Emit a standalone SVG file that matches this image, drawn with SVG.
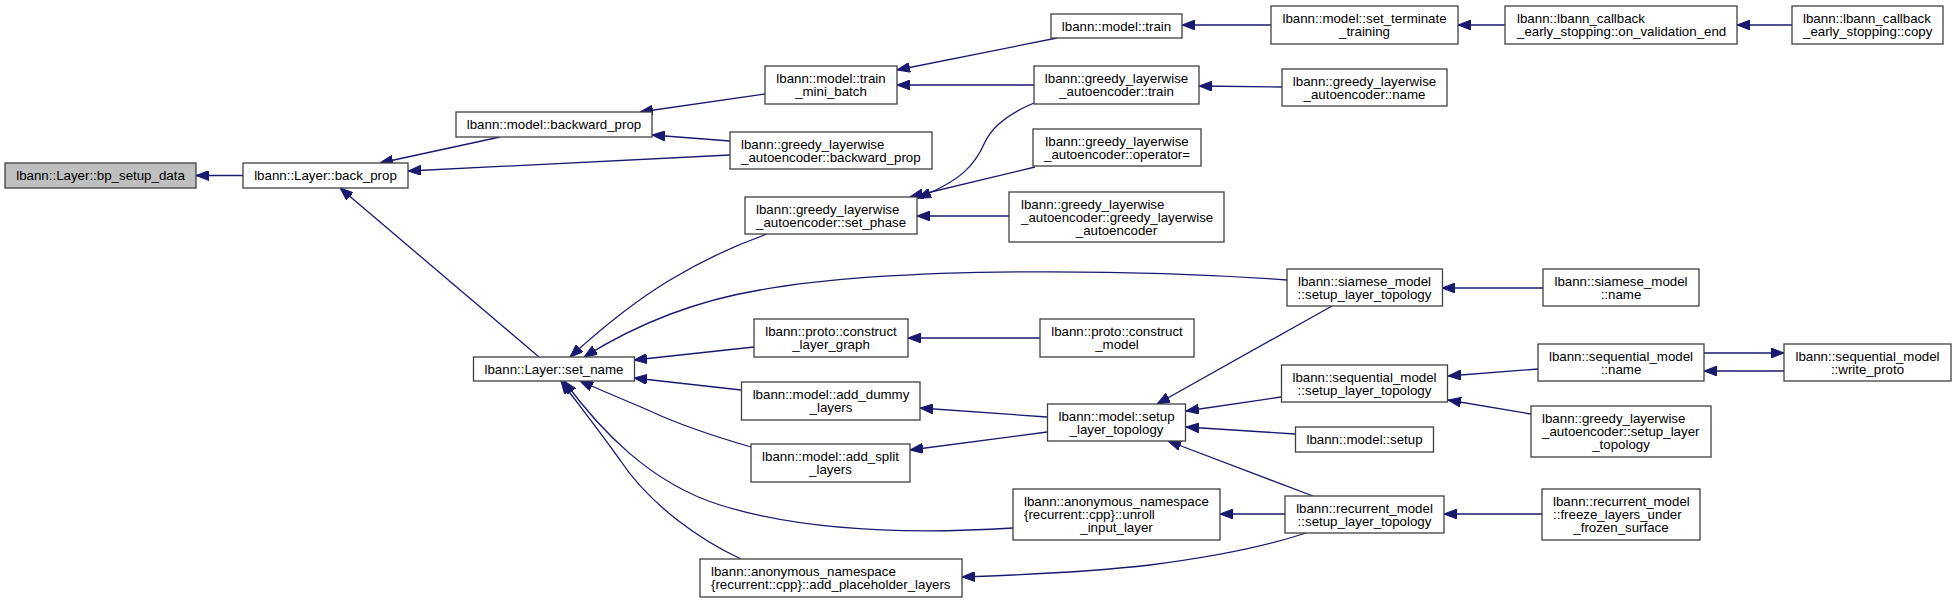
<svg xmlns="http://www.w3.org/2000/svg" width="1956" height="603" viewBox="0 0 1956 603">
<style>
.n rect{fill:#fff;stroke:#404040;stroke-width:1.3}
.n text{font-family:"Liberation Sans",Arial,Helvetica,sans-serif;font-size:13.3px;fill:#000}
.c{text-anchor:middle}
.l{text-anchor:start}
.e path{fill:none;stroke:#191970;stroke-width:1.3;marker-end:url(#ah)}
</style>
<defs>
<marker id="ah" viewBox="0 0 13 10" refX="13" refY="5" markerWidth="13" markerHeight="10" markerUnits="userSpaceOnUse" orient="auto">
<path d="M0,0 L13,5 L0,10 z" fill="#191970" stroke="#191970" stroke-width="1"/>
</marker>
</defs>
<rect width="1956" height="603" fill="#fff"/>
<g class="e" id="edges">
<path d="M243,175.5 L196,175.5"/>
<path d="M500,137 L380,163"/>
<path d="M730,155 L408,171"/>
<path d="M539,357 L340,188"/>
<path d="M765,94 L640,112"/>
<path d="M730,141 L652,135"/>
<path d="M1057,38 L897,70"/>
<path d="M1034,85 L897,85"/>
<path d="M1271,25 L1182,25"/>
<path d="M1505,25 L1458,25"/>
<path d="M1792,25 L1737,25"/>
<path d="M1282,87 L1199,86"/>
<path d="M1034,103 C1010,113 993,125 985,142 C975,165 962,180 918,198"/>
<path d="M1035,167 L910,197"/>
<path d="M1009,216 L917,216"/>
<path d="M767,234 C733,246 700,262 670,280 C640,298 605,325 570,357"/>
<path d="M1287,280 C1150,270 900,265 760,290 C700,300 640,322 584,357"/>
<path d="M754,347 L634,360"/>
<path d="M741,390 L634,378"/>
<path d="M751,447 C720,438 680,425 650,411 C625,400 600,390 580,381"/>
<path d="M1013,528 C900,535 800,530 720,505 C650,483 600,430 564,381"/>
<path d="M741,559 C700,540 650,505 620,460 C595,425 575,400 561,381"/>
<path d="M1040,338 L908,338"/>
<path d="M1047,417 L920,408"/>
<path d="M1047,432 L910,450"/>
<path d="M1332,306 L1157,404"/>
<path d="M1281,397 L1186,411"/>
<path d="M1295,434 L1186,427"/>
<path d="M1313,496 L1168,441"/>
<path d="M1285,514 L1220,514"/>
<path d="M1306,533 C1270,545 1220,556 1150,565 C1090,572 1020,575 962,577"/>
<path d="M1543,288 L1442,288"/>
<path d="M1538,369 L1448,376"/>
<path d="M1531,414 L1448,400"/>
<path d="M1704,353 L1784,353"/>
<path d="M1784,371 L1704,371"/>
<path d="M1542,514 L1444,514"/>
</g>
<g class="n" id="bp_setup_data"><rect x="5" y="163" width="191" height="25" style="fill:#bfbfbf"/><text class="c" x="100.5" y="180">lbann::Layer::bp_setup_data</text></g>
<g class="n" id="back_prop"><rect x="243" y="163" width="165" height="25"/><text class="c" x="325.5" y="180">lbann::Layer::back_prop</text></g>
<g class="n" id="model_backward_prop"><rect x="456" y="112" width="196" height="25"/><text class="c" x="554" y="129">lbann::model::backward_prop</text></g>
<g class="n" id="train_mini_batch"><rect x="765" y="66" width="132" height="38"/><text class="c" x="831" y="83">lbann::model::train</text><text class="c" x="831" y="96">_mini_batch</text></g>
<g class="n" id="greedy_backward_prop"><rect x="730" y="132" width="202" height="37"/><text class="l" x="741" y="149">lbann::greedy_layerwise</text><text class="l" x="741" y="162">_autoencoder::backward_prop</text></g>
<g class="n" id="greedy_set_phase"><rect x="745" y="197" width="172" height="37"/><text class="l" x="756" y="214">lbann::greedy_layerwise</text><text class="l" x="756" y="227">_autoencoder::set_phase</text></g>
<g class="n" id="model_train"><rect x="1051" y="14" width="131" height="24"/><text class="c" x="1116.5" y="30.5">lbann::model::train</text></g>
<g class="n" id="set_terminate_training"><rect x="1271" y="6" width="187" height="38"/><text class="c" x="1364.5" y="23">lbann::model::set_terminate</text><text class="c" x="1364.5" y="36">_training</text></g>
<g class="n" id="on_validation_end"><rect x="1505" y="6" width="232" height="38"/><text class="l" x="1517" y="23">lbann::lbann_callback</text><text class="l" x="1517" y="36">_early_stopping::on_validation_end</text></g>
<g class="n" id="early_stopping_copy"><rect x="1792" y="6" width="151" height="38"/><text class="l" x="1803" y="23">lbann::lbann_callback</text><text class="l" x="1803" y="36">_early_stopping::copy</text></g>
<g class="n" id="greedy_train"><rect x="1034" y="66" width="165" height="38"/><text class="c" x="1116.5" y="83">lbann::greedy_layerwise</text><text class="c" x="1116.5" y="96">_autoencoder::train</text></g>
<g class="n" id="greedy_name"><rect x="1282" y="69" width="165" height="37"/><text class="c" x="1364.5" y="86">lbann::greedy_layerwise</text><text class="c" x="1364.5" y="99">_autoencoder::name</text></g>
<g class="n" id="greedy_operator"><rect x="1033" y="129" width="168" height="37"/><text class="c" x="1117" y="146">lbann::greedy_layerwise</text><text class="c" x="1117" y="159">_autoencoder::operator=</text></g>
<g class="n" id="greedy_ctor"><rect x="1009" y="192" width="215" height="50"/><text class="l" x="1021" y="208.5">lbann::greedy_layerwise</text><text class="l" x="1021" y="221.5">_autoencoder::greedy_layerwise</text><text class="c" x="1116.5" y="234.5">_autoencoder</text></g>
<g class="n" id="set_name"><rect x="473.5" y="357" width="161" height="24"/><text class="c" x="554" y="373.5">lbann::Layer::set_name</text></g>
<g class="n" id="construct_layer_graph"><rect x="754" y="319" width="154" height="38"/><text class="c" x="831" y="336">lbann::proto::construct</text><text class="c" x="831" y="349">_layer_graph</text></g>
<g class="n" id="add_dummy_layers"><rect x="741.5" y="382" width="178.5" height="38"/><text class="c" x="831" y="399">lbann::model::add_dummy</text><text class="c" x="831" y="412">_layers</text></g>
<g class="n" id="add_split_layers"><rect x="751" y="444" width="159" height="38"/><text class="c" x="830.5" y="461">lbann::model::add_split</text><text class="c" x="830.5" y="474">_layers</text></g>
<g class="n" id="add_placeholder_layers"><rect x="700" y="559" width="262" height="38"/><text class="l" x="711" y="576">lbann::anonymous_namespace</text><text class="l" x="711" y="589">{recurrent::cpp}::add_placeholder_layers</text></g>
<g class="n" id="siamese_setup"><rect x="1287" y="269" width="155.5" height="37"/><text class="c" x="1364.5" y="286">lbann::siamese_model</text><text class="c" x="1364.5" y="299">::setup_layer_topology</text></g>
<g class="n" id="construct_model"><rect x="1040" y="319" width="154" height="38"/><text class="c" x="1117" y="336">lbann::proto::construct</text><text class="c" x="1117" y="349">_model</text></g>
<g class="n" id="sequential_setup"><rect x="1281.5" y="365" width="166" height="37"/><text class="c" x="1364.5" y="382">lbann::sequential_model</text><text class="c" x="1364.5" y="395">::setup_layer_topology</text></g>
<g class="n" id="model_setup_layer_topology"><rect x="1047.5" y="404" width="138" height="37"/><text class="c" x="1116.5" y="421">lbann::model::setup</text><text class="c" x="1116.5" y="434">_layer_topology</text></g>
<g class="n" id="model_setup"><rect x="1295.5" y="427" width="138" height="25"/><text class="c" x="1364.5" y="444">lbann::model::setup</text></g>
<g class="n" id="unroll_input_layer"><rect x="1013" y="489" width="207" height="51"/><text class="l" x="1024" y="505.5">lbann::anonymous_namespace</text><text class="l" x="1024" y="518.5">{recurrent::cpp}::unroll</text><text class="c" x="1116.5" y="531.5">_input_layer</text></g>
<g class="n" id="recurrent_setup"><rect x="1285" y="496" width="159" height="37"/><text class="c" x="1364.5" y="513">lbann::recurrent_model</text><text class="c" x="1364.5" y="526">::setup_layer_topology</text></g>
<g class="n" id="siamese_name"><rect x="1543" y="269" width="156" height="37"/><text class="c" x="1621" y="286">lbann::siamese_model</text><text class="c" x="1621" y="299">::name</text></g>
<g class="n" id="sequential_name"><rect x="1538" y="344" width="166" height="37"/><text class="c" x="1621" y="361">lbann::sequential_model</text><text class="c" x="1621" y="374">::name</text></g>
<g class="n" id="write_proto"><rect x="1784" y="344" width="167" height="37"/><text class="c" x="1867.5" y="361">lbann::sequential_model</text><text class="c" x="1867.5" y="374">::write_proto</text></g>
<g class="n" id="greedy_setup_layer_topology"><rect x="1531" y="406" width="180" height="51"/><text class="l" x="1542" y="422.5">lbann::greedy_layerwise</text><text class="l" x="1542" y="435.5">_autoencoder::setup_layer</text><text class="c" x="1621" y="448.5">_topology</text></g>
<g class="n" id="freeze_layers"><rect x="1542" y="489" width="158" height="51"/><text class="l" x="1553" y="505.5">lbann::recurrent_model</text><text class="l" x="1553" y="518.5">::freeze_layers_under</text><text class="c" x="1621" y="531.5">_frozen_surface</text></g>
</svg>
